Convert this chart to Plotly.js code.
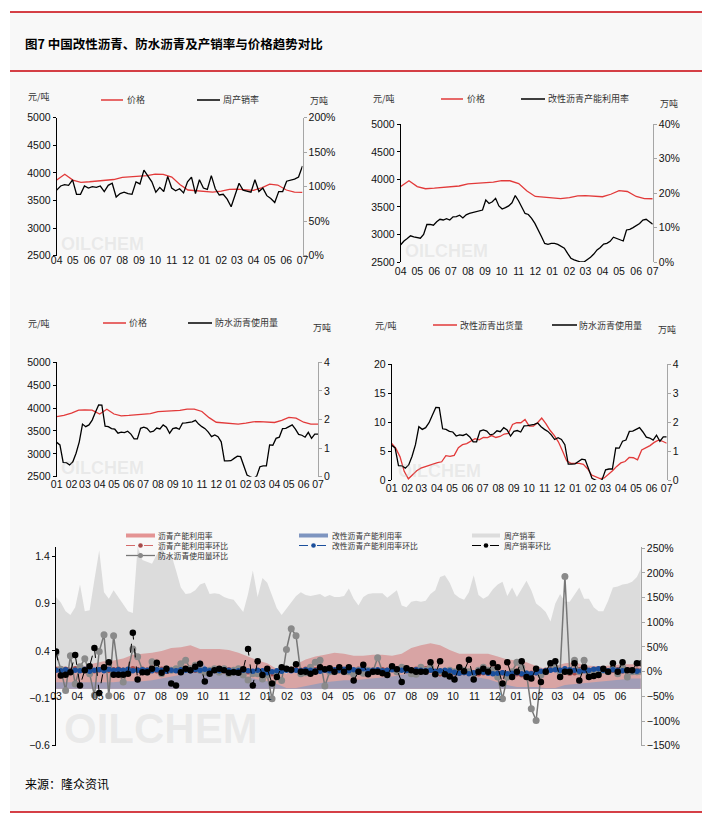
<!DOCTYPE html>
<html><head><meta charset="utf-8">
<script src="https://cdn.plot.ly/plotly-3.0.1.min.js"></script>
<style>html,body{margin:0;padding:0;background:#fff;}#chart{width:702px;height:828px;}</style>
</head><body><div id="chart"></div>
<script>
// ---------------- DATA ----------------
// asphalt price (元/吨), semi-monthly from 2023-01-01
const priceStart = [2023, 1];
const priceValues = [3812,3841,3890,3955,3958,3955,3870,3975,3870,3830,
  3840,3850,3868,3880,3920,3930,3930,3950,3978,3975,
  3925,3790,3690,3675,3670,3650,3670,3700,3705,3695,
  3685,3730,3795,3780,3690,3650,3648];

// panel 1: 周产销率 (%), weekly 2023-04 .. 2024-07
const weeklySalesRate = [95,101,103,102,110,89,89,101,98,100,
  99,101,93,102,105,85,90,92,90,89,
  107,104,124,115,107,92,99,93,115,98,
  94,97,91,107,114,90,110,98,96,116,
  97,88,89,82,71,88,105,95,93,92,
  110,93,98,87,83,77,93,93,108,109,
  111,114,130];

// panel 2: 改性沥青产能利用率 (%), weekly 2023-04 .. 2024-07
const modCapUtil = [5.0,6.1,6.8,7.6,7.3,7.1,6.9,8.0,10.9,10.9,
  10.7,11.7,12.4,12.2,12.6,12.2,13.1,13.2,13.6,12.8,
  13.7,14.1,14.4,14.7,14.9,15.1,18.0,17.0,17.5,18.5,
  16.3,15.4,15.8,16.3,17.2,19.3,17.8,16.1,14.1,13.8,
  12.7,11.2,9.5,7.4,5.4,5.1,5.4,5.4,5.1,4.6,
  4.0,2.5,1.1,0.6,0.3,0,0,0.6,1.4,2.3,
  3.5,4.2,5.2,5.4,6.0,7.2,6.8,6.4,6.1,9.3,
  9.5,10.0,10.5,11.2,12.2,12.4,11.7,11.0];

// panels 3/4: 防水沥青使用量 (万吨), weekly 2023-01 .. 2024-07
const waterproofUse = [1.20,1.11,0.50,0.49,0.41,0.52,0.82,1.22,1.84,1.75,
  1.81,1.98,2.25,2.51,2.50,1.77,1.75,1.68,1.66,1.52,
  1.56,1.54,1.59,1.49,1.32,1.32,1.69,1.73,1.69,1.56,
  1.59,1.70,1.67,1.81,1.73,1.52,1.68,1.71,1.66,1.87,
  1.88,1.89,1.92,1.97,1.84,1.75,1.68,1.56,1.40,1.46,
  1.40,1.22,0.55,0.55,0.56,0.64,0.72,0.70,0.41,0.06,
  0.00,-0.06,0.02,0.35,0.38,0.38,1.11,1.10,1.34,1.38,
  1.68,1.69,1.75,1.81,1.66,1.48,1.45,1.38,1.55,1.34,
  1.49,1.49];

// panel 4: 改性沥青出货量, weekly 2023-01 .. 2024-07
const modShipments = [6.34,5.45,4.0,1.5,0.2,0.9,1.6,2.05,2.3,2.45,
  2.75,3.0,3.15,4.2,4.07,4.25,5.6,6.1,6.3,6.75,
  7.15,6.95,7.37,7.33,7.68,7.35,7.53,7.95,8.05,9.6,
  9.9,9.9,10.45,9.3,9.3,9.9,10.7,9.75,8.6,7.7,
  6.6,5.0,3.3,2.88,2.88,2.88,2.7,1.95,0.85,0.6,
  0.25,0.35,0.9,1.6,2.35,2.95,3.2,3.9,3.85,3.5,
  5.2,5.55,5.95,6.5,6.9,6.7,6.35];

// panel 5 (weekly from 2022-03-01)
const p5Start = '2022-03-01';
const salesRate = [0.97,0.91,0.82,0.78,0.86,1.10,0.82,0.83,1.15,1.46,
  1.02,0.95,1.04,0.97,0.89,0.82,0.80,1.50,1.36,1.34,
  1.32,1.42,1.48,1.40,1.42,1.25,1.07,1.00,1.01,1.04,
  1.10,1.12,1.00,1.01,1.00,0.97,0.95,0.94,0.87,0.81,
  1.00,1.25,0.97,1.17,1.12,0.99,0.85,0.78,0.85,0.91,
  0.98,1.02,0.99,0.98,0.99,1.00,0.97,0.99,0.97,0.97,
  0.98,1.06,0.95,0.88,0.97,1.00,1.01,1.01,1.01,0.96,
  1.00,1.04,0.88,0.86,0.92,0.93,0.92,0.93,1.00,1.04,
  1.18,1.20,1.12,1.00,0.96,0.94,1.02,1.20,0.99,0.95,
  0.98,1.05,1.10,1.13,0.98,1.07,0.97,1.05,1.14,1.04,
  0.90,0.86,0.81,0.71,0.90,1.00,0.92,0.92,0.99,1.07,
  0.95,0.95,0.86,0.82,0.82,0.93,1.07,1.08,1.10,1.11,
  1.13,1.18,1.29];
// bi-weekly from 2022-03-01
const asphaltCapUtil = [0.24,0.23,0.23,0.24,0.27,0.29,0.30,0.32,0.36,0.37,
  0.38,0.40,0.43,0.44,0.46,0.42,0.42,0.42,0.41,0.38,
  0.34,0.30,0.27,0.21,0.16,0.26,0.31,0.34,0.36,0.38,
  0.37,0.35,0.35,0.36,0.36,0.35,0.37,0.43,0.46,0.48,
  0.46,0.41,0.37,0.37,0.37,0.37,0.34,0.31,0.30,0.28,
  0.24,0.21,0.24,0.27,0.28,0.25,0.24,0.24,0.25,0.26,
  0.26,0.26];
const modCapUtilLong = [0.07,0.07,0.07,0.07,0.07,0.07,0.07,0.08,0.08,0.08,
  0.09,0.11,0.13,0.15,0.20,0.31,0.18,0.16,0.16,0.15,
  0.12,0.10,0.08,0.05,0.01,0.01,0.03,0.05,0.07,0.08,
  0.09,0.09,0.10,0.11,0.12,0.13,0.15,0.16,0.16,0.16,
  0.16,0.16,0.15,0.13,0.12,0.10,0.07,0.04,0.02,0.02,
  0.02,0.01,0.01,0.04,0.05,0.06,0.07,0.08,0.09,0.10,
  0.11,0.11];
// week-on-week changes (%)
const salesRateWoW = [41,-8,-6,-1,34,-28,3,11,48,-43,
  9,19,-6,-6,-6,-4,79,-16,-1,-1,
  6,18,-2,6,-24,-28,-1,6,3,10,
  16,-20,-4,3,6,3,-2,-1,-2,5,
  46,-28,21,-7,6,-24,-11,9,6,4,
  15,0,0,-4,0,9,5,7,0,9,
  0,9,-18,0,14,-5,0,0,-3,-7,
  11,5,-21,7,3,0,0,0,19,-5,
  21,-5,-10,-16,9,1,24,-16,0,6,
  0,17,9,-24,19,-11,0,21,-11,-14,
  6,-21,0,17,21,-11,0,0,17,-18,
  9,-11,-9,-7,6,0,17,0,19,3,
  3,17,17];
const waterproofUseWoW = [38,5,-38,32,-25,10,26,-4,-48,41,
  75,-49,73,-1,-21,3,46,30,3,-1,
  20,6,-4,6,3,6,16,23,6,13,
  3,-1,3,6,-1,6,-4,3,6,-7,
  -17,-4,-4,-15,-7,-55,-4,-18,45,87,
  73,-4,-2,9,19,23,-29,0,0,3,
  0,0,-5,3,-3,3,0,28,0,-4,
  6,0,9,6,-4,-5,9,3,9,-4,
  0,-4,3,0,6,3,0,-4,3,9,
  3,3,-11,-55,-11,0,19,9,-4,-75,
  -99,-7,0,16,9,0,193,0,23,0,
  23,-4,0,-4,3,0,6,-4,9,-11,
  0,0,0];
const asphaltCapUtilWoW = [4,3,5,2,6,4,3,5,2,4,
  6,3,4,5,3,2,6,4,5,3,
  4,2,5,3,4,6,3,5,4,3,
  2,4,3,5,2,3,4,2,3,1,
  0,-2,-1,-3,-2,-4,-1,2,6,5,
  4,3,5,3,4,2,3,4,3,2,
  4,3,2,5,3,4,3,2,4,3,
  5,4,6,4,3,5,4,6,3,-2,
  -4,-3,-5,-2,-3,-1,-2,-3,-4,-2,
  -1,-3,-4,-2,-5,-3,-4,-6,-5,-3,
  -2,-1,3,4,5,3,2,-3,-2,4,
  3,2,4,3,5,2,3,4,2,3,
  2,3,1];
const modCapUtilWoW = [3,2,4,1,3,2,5,1,3,4,
  2,5,3,4,3,5,2,3,4,3,
  2,4,3,1,3,2,4,3,2,4,
  3,5,2,3,2,4,3,1,2,3,
  2,1,3,2,-2,0,2,1,3,2,
  3,2,4,3,2,1,3,2,4,3,
  5,2,4,3,6,2,3,4,2,3,
  4,5,3,2,3,4,3,2,3,1,
  2,3,2,-1,-3,-2,-4,-2,1,-1,
  -3,-4,-3,-2,-4,-3,-2,-4,-3,-4,
  -2,1,2,3,4,3,6,4,3,1,
  2,3,5,6,3,2,4,3,2,3,
  2,1,2];

// ---------------- HELPERS ----------------
const W = 702, H = 828;
const X = p => p / W;
const Y = p => 1 - p / H;
function halfMonths(ym, n) {
  const out = []; let y = ym[0], m = ym[1];
  for (let i = 0; i < n; i++) {
    const d = (i % 2 === 0) ? '01' : '16';
    out.push(y + '-' + String(m).padStart(2, '0') + '-' + d);
    if (i % 2 === 1) { m++; if (m > 12) { m = 1; y++; } }
  }
  return out;
}
function spread(start, end, n) {
  const a = Date.parse(start + 'T00:00:00Z'), b = Date.parse(end + 'T00:00:00Z');
  return Array.from({length: n}, (_, i) => new Date(a + (b - a) * i / (n - 1)).toISOString().slice(0, 19).replace('T', ' '));
}
function steps(start, n, days) {
  const a = Date.parse(start + 'T00:00:00Z');
  return Array.from({length: n}, (_, i) => new Date(a + i * days * 86400000).toISOString().slice(0, 10));
}

const RED = '#e23a3a', BLACK = '#000000';
const TICKFONT = {family: 'Liberation Sans, Arial, sans-serif', size: 10.5, color: '#111'};
const CJK = 'Noto Sans CJK SC';
const priceX = halfMonths(priceStart, priceValues.length);

// ---------------- TRACES ----------------
const line = (x, y, xa, ya, color, w) => ({type: 'scatter', mode: 'lines', x, y, xaxis: xa, yaxis: ya,
  line: {color, width: w || 1.3}, hoverinfo: 'skip', showlegend: false});

const traces = [
  line(priceX, priceValues, 'x', 'y', RED),
  line(spread('2023-04-01', '2024-07-01', weeklySalesRate.length), weeklySalesRate, 'x', 'y2', BLACK),
  line(priceX, priceValues, 'x2', 'y3', RED),
  line(spread('2023-04-01', '2024-07-01', modCapUtil.length), modCapUtil, 'x2', 'y4', BLACK),
  line(priceX, priceValues, 'x3', 'y5', RED),
  line(spread('2023-01-01', '2024-07-01', waterproofUse.length), waterproofUse, 'x3', 'y6', BLACK),
  line(spread('2023-01-01', '2024-07-01', modShipments.length), modShipments, 'x4', 'y7', RED),
  line(spread('2023-01-01', '2024-07-01', waterproofUse.length), waterproofUse, 'x4', 'y8', BLACK)
];

const wk = steps(p5Start, salesRate.length, 7);
const bw = steps(p5Start, asphaltCapUtil.length, 14);
const area = (x, y, color) => ({type: 'scatter', mode: 'lines', x, y, xaxis: 'x5', yaxis: 'y9', fill: 'tozeroy',
  fillcolor: color, line: {width: 0, color}, hoverinfo: 'skip', showlegend: false});
traces.push(area(wk, salesRate, '#dcdcdc'));
traces.push(area(bw, asphaltCapUtil, '#d8a4a4'));
traces.push(area(bw, modCapUtilLong, '#a09cb6'));
const ml = (y, lc, mc, dash, ms, lw) => ({type: 'scatter', mode: 'lines+markers', x: steps(p5Start, y.length, 7), y,
  xaxis: 'x5', yaxis: 'y10', line: {color: lc, width: lw, dash}, marker: {color: mc, size: ms},
  hoverinfo: 'skip', showlegend: false, cliponaxis: true});
traces.push(ml(asphaltCapUtilWoW, '#d46a6a', '#a84a4a', 'dash', 5.5, 1));
traces.push(ml(waterproofUseWoW, '#777777', '#8a8a8a', 'solid', 7, 1.5));
traces.push(ml(modCapUtilWoW, '#1b4f9c', '#1b4f9c', 'dash', 5.5, 1.2));
traces.push(ml(salesRateWoW, '#000000', '#000000', 'dash', 6.5, 1));

// ---------------- LAYOUT ----------------
const xax = (dom, pos, start, end, tick0) => ({domain: dom, anchor: 'free', position: pos, type: 'date',
  range: [start, end], tick0: tick0 || start, dtick: 'M1', tickformat: '%m', tickangle: 0, showgrid: false, zeroline: false,
  showline: false, ticks: '', tickfont: TICKFONT, fixedrange: true});
const yl = (dom, xa, range, dtick, extra) => Object.assign({domain: dom, anchor: xa, range, dtick,
  showgrid: false, zeroline: false, showline: true, linecolor: '#000', linewidth: 1, ticks: 'outside',
  ticklen: 3, tickcolor: '#000', tickfont: TICKFONT, fixedrange: true}, extra || {});
const yr = (over, xa, range, dtick, extra) => Object.assign({overlaying: over, anchor: xa, side: 'right', range, dtick,
  showgrid: false, zeroline: false, showline: true, linecolor: '#a6a6a6', linewidth: 1, ticks: 'outside',
  ticklen: 3, tickcolor: '#a6a6a6', tickfont: TICKFONT, fixedrange: true}, extra || {});

const layout = {
  width: W, height: H, margin: {l: 0, r: 0, t: 0, b: 0}, autosize: false,
  paper_bgcolor: '#ffffff', plot_bgcolor: 'rgba(0,0,0,0)', showlegend: false,
  xaxis: xax([X(56.7), X(302.5)], Y(252), '2023-04-01', '2024-07-01'),
  yaxis: yl([Y(255.7), Y(117.7)], 'x', [2500, 5000], 500),
  yaxis2: yr('y', 'x', [0, 200], 50, {ticksuffix: '%'}),
  xaxis2: xax([X(400.7), X(652.7)], Y(263), '2023-04-01', '2024-07-01'),
  yaxis3: yl([Y(262), Y(124.3)], 'x2', [2500, 5000], 500),
  yaxis4: yr('y3', 'x2', [0, 40], 10, {ticksuffix: '%'}),
  xaxis3: xax([X(56.7), X(318)], Y(476.7), '2023-01-01', '2024-07-01'),
  yaxis5: yl([Y(476.7), Y(362.3)], 'x3', [2500, 5000], 500),
  yaxis6: yr('y5', 'x3', [0, 4], 1),
  xaxis4: xax([X(391.7), X(666.7)], Y(480), '2023-01-01', '2024-07-01'),
  yaxis7: yl([Y(480), Y(364.3)], 'x4', [0, 20], 5),
  yaxis8: yr('y7', 'x4', [0, 4], 1),
  xaxis5: xax([X(56), X(640.7)], Y(688.8), '2022-03-01', '2024-06-30 12:00', '2022-03-01'),
  yaxis9: yl([Y(745.7), Y(546.7)], 'x5', [-0.6, 1.5], 0.5, {tick0: -0.6, tickformat: '.1f'}),
  yaxis10: yr('y9', 'x5', [-150, 253.2], 50, {ticksuffix: '%', tick0: -150}),
  shapes: [], annotations: []
};

const S = layout.shapes, A = layout.annotations;
// background + frame rules
S.push({type: 'rect', xref: 'paper', yref: 'paper', x0: X(10), x1: 1, y0: Y(812), y1: Y(12), fillcolor: '#f8f8f8', line: {width: 0}, layer: 'below'});
[12, 71, 812].forEach(py => S.push({type: 'line', xref: 'paper', yref: 'paper', x0: X(10), x1: 1, y0: Y(py), y1: Y(py), line: {color: '#c8000a', width: 1.5}}));

function txt(px, py, text, size, opts) {
  A.push(Object.assign({xref: 'paper', yref: 'paper', x: X(px), y: Y(py), text, showarrow: false,
    xanchor: 'left', yanchor: 'middle', borderpad: 0, borderwidth: 0,
    font: {family: CJK, size: size, color: '#333'}}, opts || {}));
}
function seg(x0, x1, py, color, width, dash) {
  S.push({type: 'line', xref: 'paper', yref: 'paper', x0: X(x0), x1: X(x1), y0: Y(py), y1: Y(py), line: {color, width, dash: dash || 'solid'}});
}
function dot(cx, cy, r, color) {
  S.push({type: 'circle', xref: 'paper', yref: 'paper', x0: X(cx - r), x1: X(cx + r), y0: Y(cy + r), y1: Y(cy - r), fillcolor: color, line: {width: 0}});
}

// title and source
txt(25, 43, '<b>图7 中国改性沥青、防水沥青及产销率与价格趋势对比</b>', 12.5, {font: {family: CJK, size: 12.5, color: '#000'}});
txt(25, 783, '来源：隆众资讯', 12, {font: {family: CJK, size: 12, color: '#000'}});

// watermarks
const wm = (cx, cy, size) => A.push({xref: 'paper', yref: 'paper', x: X(cx), y: Y(cy), text: '<b>OILCHEM</b>', showarrow: false,
  xanchor: 'center', yanchor: 'middle', font: {family: 'Liberation Sans, Arial', size, color: 'rgba(190,190,190,0.25)'}});
wm(102, 244, 18); wm(447, 251, 18); wm(102, 468, 18); wm(440, 471, 18); wm(161, 728, 42);

// panel 1 legend
txt(28, 97, '元/吨', 9); txt(310, 101, '万吨', 9);
seg(101, 123, 100, RED, 1.5); txt(127, 100, '价格', 9);
seg(197, 220, 100, BLACK, 1.5); txt(223, 100, '周产销率', 9);
// panel 2
txt(373, 99, '元/吨', 9); txt(660, 103, '万吨', 9);
seg(441, 463, 99, RED, 1.5); txt(467, 99, '价格', 9);
seg(521, 545, 99, BLACK, 1.5); txt(548, 99, '改性沥青产能利用率', 9);
// panel 3
txt(28, 324, '元/吨', 9); txt(313, 327, '万吨', 9);
seg(103, 126, 323, RED, 1.5); txt(129, 323, '价格', 9);
seg(188, 212, 323, BLACK, 1.5); txt(215, 323, '防水沥青使用量', 9);
// panel 4
txt(375, 325, '元/吨', 9); txt(658, 329, '万吨', 9);
seg(433, 457, 325, RED, 1.5); txt(460, 325, '改性沥青出货量', 9);
seg(552, 577, 325, BLACK, 1.5); txt(579, 325, '防水沥青使用量', 9);
// panel 5 legend (three rows)
const LF = 7.8, R1 = 535.5, R2 = 545.5, R3 = 555.5;
seg(126, 155, R1, '#e49494', 4); txt(158, R1, '沥青产能利用率', LF);
seg(126, 155, R2, '#d46a6a', 1, 'dash'); dot(140.5, R2, 2.3, '#a84a4a'); txt(158, R2, '沥青产能利用率环比', LF);
seg(126, 155, R3, '#777777', 1.3); dot(140.5, R3, 2.5, '#8a8a8a'); txt(158, R3, '防水沥青使用量环比', LF);
seg(299, 328, R1, '#7e95c0', 4); txt(332, R1, '改性沥青产能利用率', LF);
seg(299, 328, R2, '#1b4f9c', 1, 'dash'); dot(313.5, R2, 2.3, '#1b4f9c'); txt(332, R2, '改性沥青产能利用率环比', LF);
seg(472, 500, R1, '#dcdcdc', 4); txt(504, R1, '周产销率', LF);
seg(472, 500, R2, '#000000', 1, 'dash'); dot(486, R2, 2.3, '#000000'); txt(504, R2, '周产销率环比', LF);

Plotly.newPlot('chart', traces, layout, {staticPlot: true, displayModeBar: false});
</script></body></html>
